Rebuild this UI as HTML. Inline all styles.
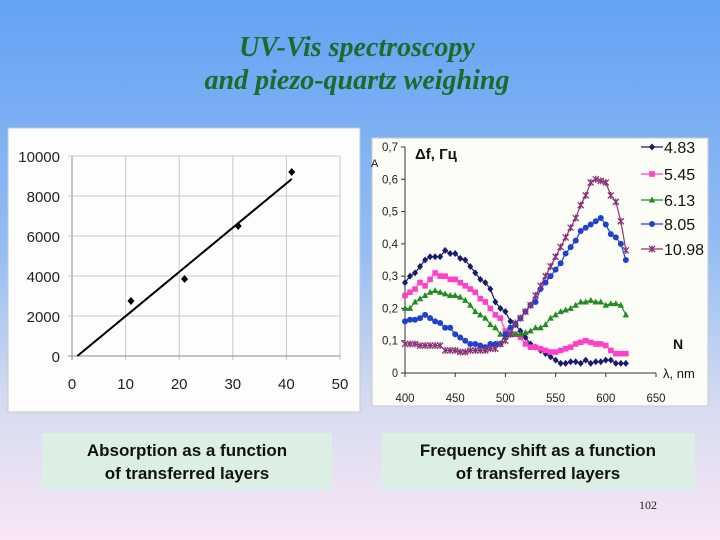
<!DOCTYPE html>
<html><head><meta charset="utf-8"><style>
html,body{margin:0;padding:0;width:720px;height:540px;overflow:hidden}
svg text{font-family:"Liberation Sans",sans-serif}
</style></head><body>
<svg id="root" width="720" height="540" viewBox="0 0 720 540" xmlns="http://www.w3.org/2000/svg">
<defs>
<linearGradient id="bg" x1="0" y1="0" x2="0" y2="1">
<stop offset="0" stop-color="#64a2f4"/>
<stop offset="0.45" stop-color="#92bcf2"/>
<stop offset="0.75" stop-color="#d6dcf0"/>
<stop offset="1" stop-color="#fae6f6"/>
</linearGradient>
</defs>
<rect width="720" height="540" fill="url(#bg)"/>
<g font-family="'Liberation Serif',serif" font-style="italic" font-weight="bold" font-size="28" fill="#1b6b2a" text-anchor="middle">
<text x="357" y="56" style="font-family:'Liberation Serif',serif">UV-Vis spectroscopy</text>
<text x="357" y="89" style="font-family:'Liberation Serif',serif">and piezo-quartz weighing</text>
</g>
<rect x="8" y="128" width="352" height="284" fill="#fdfdfd" stroke="#c8c8d0"/>
<g id="left"></g>
<rect x="372" y="138" width="336" height="268" fill="#fdfdf8" stroke="#c8c8d0"/>
<g id="right"></g>
<rect x="42" y="433" width="290" height="57" fill="#dcefe4"/>
<text x="187" y="456" text-anchor="middle" font-size="17" font-weight="bold" fill="#111">Absorption as a function</text>
<text x="187" y="479" text-anchor="middle" font-size="17" font-weight="bold" fill="#111">of transferred layers</text>
<rect x="382" y="433" width="313" height="57" fill="#dcefe4"/>
<text x="538" y="456" text-anchor="middle" font-size="17" font-weight="bold" fill="#111">Frequency shift as a function</text>
<text x="538" y="479" text-anchor="middle" font-size="17" font-weight="bold" fill="#111">of transferred layers</text>
<text x="648" y="509" text-anchor="middle" font-size="12" fill="#222" style="font-family:'Liberation Serif',serif">102</text>
</svg>
<script>
// Left chart data
const leftX = [11, 21, 31, 41];
const leftY = [2750, 3850, 6500, 9200];
const trendX = [1, 41];
const trendY = [0, 8850];
const leftXTicks = [0, 10, 20, 30, 40, 50];
const leftYTicks = [0, 2000, 4000, 6000, 8000, 10000];
// Right chart data
const wavelengths = [400,405,410,415,420,425,430,435,440,445,450,455,460,465,470,475,480,485,490,495,500,505,510,515,520,525,530,535,540,545,550,555,560,565,570,575,580,585,590,595,600,605,610,615,620];
const seriesNames = ["4.83","5.45","6.13","8.05","10.98"];
const s483 = [.28,.30,.31,.33,.35,.36,.36,.36,.38,.37,.37,.355,.35,.33,.31,.29,.28,.26,.22,.20,.19,.16,.15,.13,.11,.09,.08,.07,.06,.05,.04,.03,.03,.035,.035,.03,.04,.03,.035,.035,.04,.04,.03,.03,.03];
const s545 = [.24,.25,.26,.28,.27,.29,.31,.30,.30,.29,.29,.28,.27,.26,.25,.23,.22,.20,.18,.17,.13,.12,.12,.11,.09,.08,.08,.075,.07,.065,.065,.07,.075,.08,.09,.095,.10,.095,.09,.09,.085,.07,.06,.06,.06];
const s613 = [.20,.20,.22,.23,.24,.25,.255,.25,.245,.24,.24,.235,.225,.21,.19,.18,.17,.15,.14,.12,.11,.12,.12,.12,.125,.13,.14,.14,.15,.17,.18,.19,.195,.20,.21,.22,.22,.225,.22,.22,.21,.215,.215,.21,.18];
const s805 = [.16,.165,.165,.17,.18,.17,.16,.155,.14,.14,.12,.11,.10,.09,.09,.085,.08,.09,.09,.09,.12,.14,.15,.17,.19,.21,.22,.26,.28,.30,.32,.34,.37,.39,.41,.44,.45,.46,.47,.48,.46,.43,.42,.40,.35];
const s1098 = [.09,.09,.09,.085,.085,.085,.085,.085,.07,.07,.07,.065,.065,.07,.07,.07,.07,.075,.075,.09,.10,.12,.155,.17,.19,.21,.24,.27,.30,.33,.36,.39,.42,.45,.48,.52,.55,.59,.60,.595,.59,.55,.53,.47,.38];
const rightXTicks = [400,450,500,550,600,650];
const rightYTicks = ["0","0,1","0,2","0,3","0,4","0,5","0,6","0,7"];

const NS="http://www.w3.org/2000/svg";
function mk(tag, attrs, parent){const e=document.createElementNS(NS,tag);for(const k in attrs)e.setAttribute(k,attrs[k]);parent.appendChild(e);return e;}

// Left chart
const L=document.getElementById('left');
const lx=v=>72+(v/50)*268, ly=v=>356-(v/10000)*200;
leftXTicks.forEach(t=>{
  const g=mk('line',{x1:lx(t),x2:lx(t),y1:ly(10000),y2:ly(0)+4,stroke:t===0?'#888':'#c8c8c8'},L);
  
  
  const tx=mk('text',{x:lx(t),y:389,'text-anchor':'middle','font-size':15,fill:'#222'},L);tx.textContent=t;
  
  
});
leftYTicks.forEach(t=>{
  const g=mk('line',{x1:lx(0)-4,x2:lx(50),y1:ly(t),y2:ly(t),stroke:t===0?'#888':'#c8c8c8'},L);
  
  
  const tx=mk('text',{x:60,y:ly(t)+6,'text-anchor':'end','font-size':15,fill:'#222'},L);tx.textContent=t;
  
  
});
const tl=mk('line',{x1:lx(trendX[0]),y1:ly(trendY[0]),x2:lx(trendX[1]),y2:ly(trendY[1]),stroke:'#000','stroke-width':2},L);


leftX.forEach((x,i)=>{
  const cx=lx(x),cy=ly(leftY[i]);
  const p=mk('polygon',{points:`${cx},${cy-4} ${cx+3.5},${cy} ${cx},${cy+4} ${cx-3.5},${cy}`,fill:'#000'},L);
  
  
});

// Right chart
const R=document.getElementById('right');
const rx=v=>405+(v-400)/250*251, ry=v=>373-v/0.7*226;
const ax1=mk('line',{x1:rx(400),x2:rx(400),y1:ry(0.7),y2:ry(0),stroke:'#333'},R);


const ax2=mk('line',{x1:rx(400),x2:rx(650),y1:ry(0),y2:ry(0),stroke:'#333'},R);


rightYTicks.forEach((t,i)=>{
  const v=i*0.1;
  mk('line',{x1:rx(400)-4,x2:rx(400),y1:ry(v),y2:ry(v),stroke:'#333'},R);
  const tx=mk('text',{x:rx(400)-7,y:ry(v)+4,'text-anchor':'end','font-size':12,fill:'#222',textLength:t.length>1?16:6,lengthAdjust:'spacingAndGlyphs'},R);tx.textContent=t;
  
  
});
rightXTicks.forEach(t=>{
  mk('line',{x1:rx(t),x2:rx(t),y1:ry(0),y2:ry(0)+4,stroke:'#333'},R);
  const tx=mk('text',{x:rx(t),y:402,'text-anchor':'middle','font-size':12,fill:'#222',textLength:19,lengthAdjust:'spacingAndGlyphs'},R);tx.textContent=t;
  
  
});
const colors=['#1a1a6e','#ff40c8','#228b22','#2040d0','#883377'];
const shapes=['diamond','square','triangle','circle','star'];
const allSeries=[s483,s545,s613,s805,s1098];
function marker(shape,cx,cy,c,parent){
  let e;
  if(shape==='diamond')e=mk('polygon',{points:`${cx},${cy-3.5} ${cx+3},${cy} ${cx},${cy+3.5} ${cx-3},${cy}`,fill:c},parent);
  else if(shape==='square')e=mk('rect',{x:cx-2.8,y:cy-2.8,width:5.6,height:5.6,fill:c},parent);
  else if(shape==='triangle')e=mk('polygon',{points:`${cx},${cy-3.5} ${cx+3.2},${cy+2.5} ${cx-3.2},${cy+2.5}`,fill:c},parent);
  else if(shape==='circle')e=mk('circle',{cx:cx,cy:cy,r:3,fill:c},parent);
  else e=mk('path',{d:`M${cx-3},${cy-3}L${cx+3},${cy+3}M${cx+3},${cy-3}L${cx-3},${cy+3}M${cx},${cy-3.5}L${cx},${cy+3.5}`,stroke:c,'stroke-width':1.3,fill:'none'},parent);
  return e;
}
allSeries.forEach((s,si)=>{
  const g=mk('g',{},R);
  
  
  const pts=wavelengths.map((w,i)=>rx(w)+','+ry(s[i])).join(' ');
  mk('polyline',{points:pts,fill:'none',stroke:colors[si],'stroke-width':1.2},g);
  wavelengths.forEach((w,i)=>{
    const m=marker(shapes[si],rx(w),ry(s[i]),colors[si],g);
    
    
  });
  // legend
  const ly2=[147,174,200,224,249][si];
  const lg=mk('g',{},R);
  
  
  mk('line',{x1:641,x2:663,y1:ly2,y2:ly2,stroke:colors[si],'stroke-width':1.2},lg);
  marker(shapes[si],652,ly2,colors[si],lg);
  const t=mk('text',{x:664,y:ly2+6,'font-size':16,fill:'#111'},lg);t.textContent=seriesNames[si];
});
const extras=[['Δf, Гц',415,159,15,'bold','delta-f-label'],['N',673,349,14,'bold','n-label'],['λ, nm',663,378,13,'normal','x-axis-title'],['A',371,167,11,'normal','y-axis-title']];
extras.forEach(e=>{
  const t=mk('text',{x:e[1],y:e[2],'font-size':e[3],'font-weight':e[4],fill:'#111'},R);t.textContent=e[0];
  
  
});
</script>
</body></html>
